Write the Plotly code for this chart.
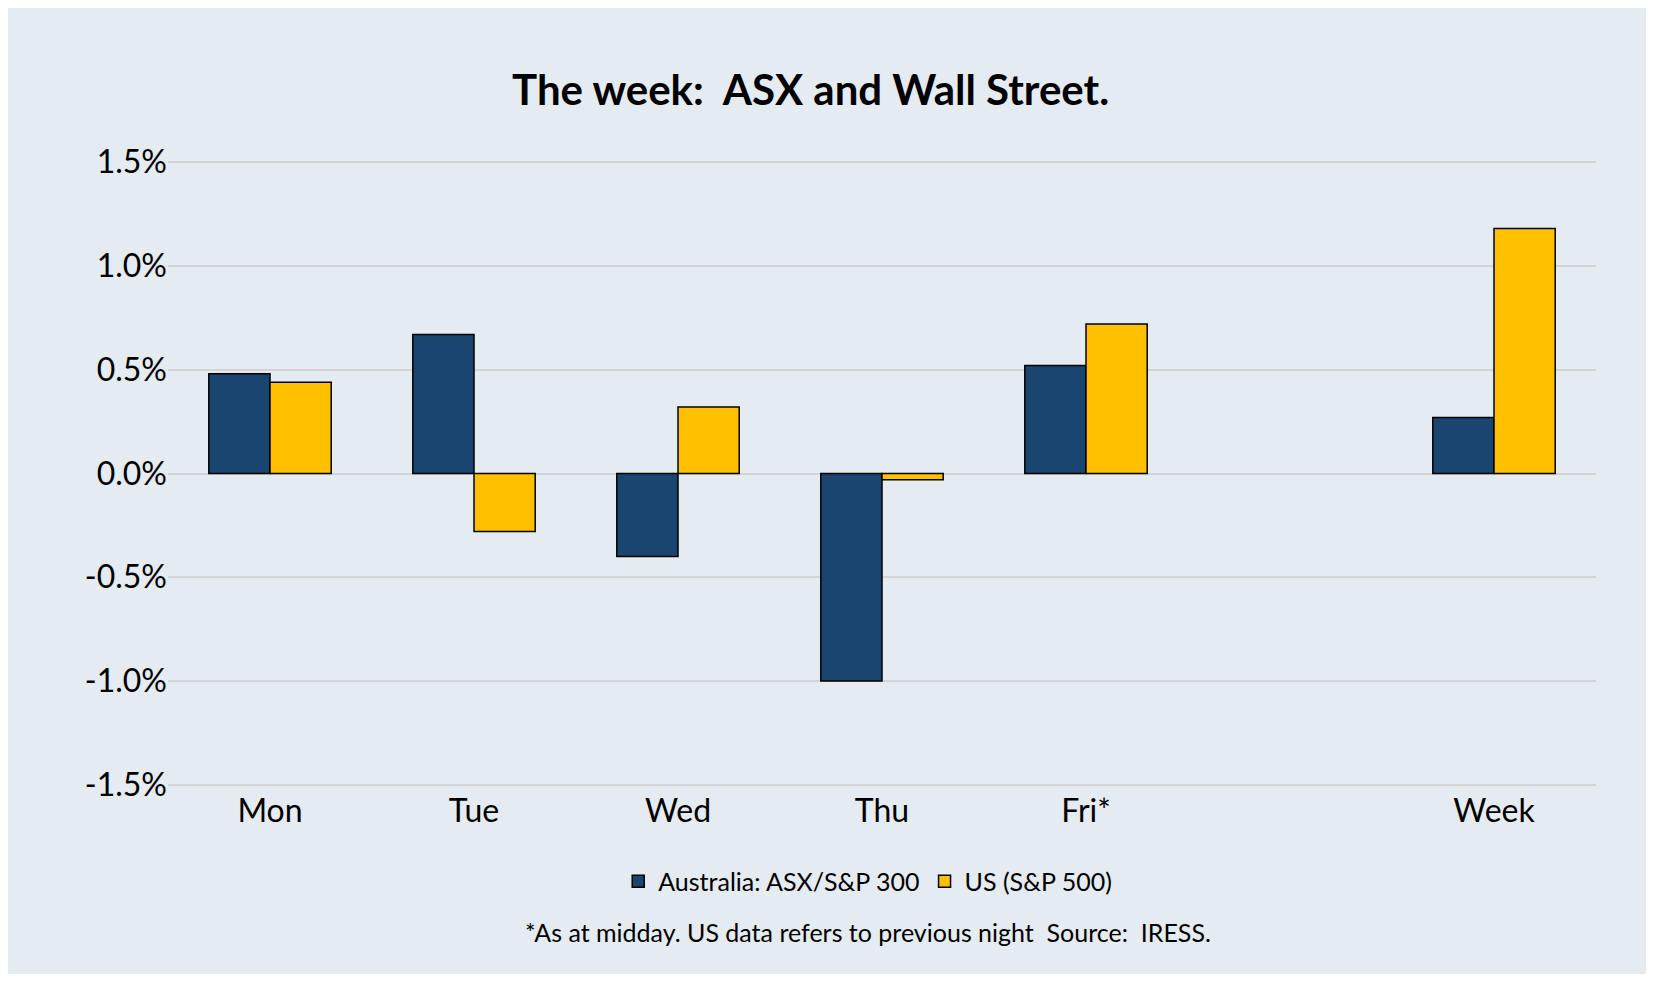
import plotly.graph_objects as go

# data
days = ['Mon', 'Tue', 'Wed', 'Thu', 'Fri*', ' ', 'Week']
asx = [0.48, 0.67, -0.40, -1.00, 0.52, None, 0.27]
us = [0.44, -0.28, 0.32, -0.03, 0.72, None, 1.18]
ticks = [-1.5, -1.0, -0.5, 0.0, 0.5, 1.0, 1.5]

fig = go.Figure()
fig.add_trace(go.Bar(x=days, y=asx, name='Australia: ASX/S&P 300',
                     marker=dict(color='#1A4570', line=dict(color='black', width=1.5))))
fig.add_trace(go.Bar(x=days, y=us, name='US (S&P 500)',
                     marker=dict(color='#FFC000', line=dict(color='black', width=1.5))))

fig.update_layout(
    title=dict(text='<b>The week:  ASX and Wall Street.</b>', x=0.49, y=0.93,
               font=dict(size=42, color='black')),
    font=dict(family='Lato, Open Sans, sans-serif', size=26, color='black'),
    paper_bgcolor='#E4EBF1', plot_bgcolor='#E4EBF1',
    barmode='group', bargap=0.4, bargroupgap=0,
    margin=dict(l=160, r=50, t=150, b=185),
    legend=dict(orientation='h', x=0.49, xanchor='center', y=-0.11, yanchor='top',
                font=dict(size=25), bgcolor='rgba(0,0,0,0)'),
    xaxis=dict(showgrid=False, ticks='', tickfont=dict(size=32)),
    yaxis=dict(range=[-1.52, 1.52], tickvals=ticks,
               ticktext=[f'{v:.1f}%' for v in ticks],
               gridcolor='#D4D4D4', gridwidth=2, zeroline=False,
               tickfont=dict(size=32)),
)
fig.add_annotation(text='*As at midday. US data refers to previous night  Source:  IRESS.',
                   xref='paper', yref='paper', x=0.49, y=-0.2, yanchor='top',
                   showarrow=False, font=dict(size=25))

fig.write_html('out.html')
